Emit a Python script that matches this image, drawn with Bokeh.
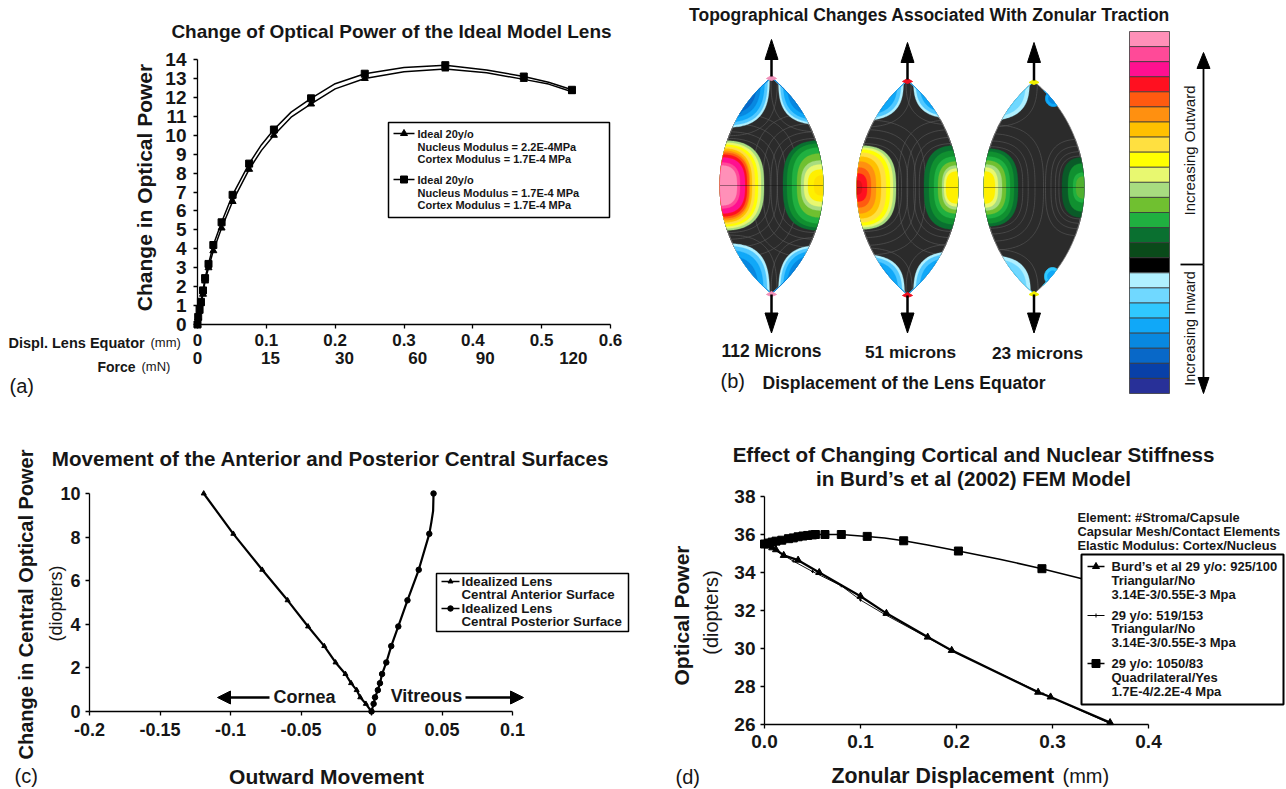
import numpy as np
from bokeh.plotting import figure
from bokeh.layouts import row, column
from bokeh.models import Range1d, FixedTicker, LinearAxis
from bokeh.core.properties import value
from bokeh.embed import file_html
from bokeh.resources import INLINE

FONT = "Liberation Sans"
INK = "#161616"

# ---------- panel (a) data
a_ticks_x = [0, 0.1, 0.2, 0.3, 0.4, 0.5, 0.6]
a_ticks_y = list(range(0, 15))
a_force_labels = ["0", "15", "30", "60", "90", "120"]
a_force_pos = [0, 0.106, 0.2136, 0.32, 0.418, 0.546]
a_x = [0, 0.001, 0.003, 0.005, 0.008, 0.011, 0.016, 0.023, 0.035, 0.051, 0.075, 0.111, 0.165, 0.243, 0.36, 0.474, 0.544]
a_square = [0, 0.4, 0.8, 1.2, 1.8, 2.45, 3.2, 4.2, 5.4, 6.85, 8.5, 10.3, 11.95, 13.25, 13.7, 13.1, 12.4]
a_triangle = [0, 0.35, 0.7, 1.1, 1.6, 2.3, 3.0, 3.9, 5.1, 6.5, 8.2, 10.0, 11.65, 13.0, 13.5, 12.95, 12.3]
# extra points, between the markers
a_curve_x = [0.093, 0.136, 0.2, 0.3, 0.42, 0.51]
a_curve_square = [9.5, 11.22, 12.72, 13.58, 13.45, 12.8]
a_curve_triangle = [9.2, 10.95, 12.45, 13.35, 13.3, 12.7]

# ---------- panel (c) data
c_ticks_x = [-0.2, -0.15, -0.1, -0.05, 0, 0.05, 0.1]
c_ticks_y = [0, 2, 4, 6, 8, 10]
c_ant_x = [-0.119, -0.098, -0.0775, -0.0595, -0.045, -0.0335, -0.0255, -0.0185, -0.0145, -0.0105, -0.008, -0.004, 0]
c_post_x = [0.044, 0.041, 0.0335, 0.0255, 0.019, 0.014, 0.0105, 0.0075, 0.006, 0.0045, 0.0025, 0.0015, 0]
c_power = [10, 8.15, 6.5, 5.1, 3.9, 3.0, 2.25, 1.72, 1.3, 0.98, 0.65, 0.35, 0]
c_post_curve_x = [0.0437, 0.0425]
c_post_curve_y = [9.2, 8.7]

# ---------- panel (d) data
d_ticks_x = [0.0, 0.1, 0.2, 0.3, 0.4]
d_ticks_y = [26, 28, 30, 32, 34, 36, 38]
d_quad_x = [0, 0.004, 0.008, 0.012, 0.018, 0.025, 0.03, 0.035, 0.04, 0.045, 0.05, 0.053, 0.063, 0.08, 0.107, 0.145, 0.202, 0.289, 0.36]
d_quad_y = [35.5, 35.55, 35.6, 35.65, 35.7, 35.78, 35.82, 35.88, 35.92, 35.95, 35.98, 36.0, 36.0, 36.0, 35.9, 35.67, 35.13, 34.2, 33.3]
d_quad_curve_x = [0.125, 0.17, 0.245]
d_quad_curve_y = [35.82, 35.45, 34.7]
d_burd_x = [0, 0.004, 0.008, 0.012, 0.02, 0.035, 0.057, 0.1, 0.127, 0.17, 0.195, 0.285, 0.298, 0.36]
d_burd_y = [35.5, 35.4, 35.3, 35.2, 34.9, 34.65, 34.0, 32.75, 31.85, 30.6, 29.9, 27.7, 27.45, 26.1]
d_thin_x = [0, 0.03, 0.05, 0.08, 0.1, 0.125, 0.195, 0.29, 0.36]
d_thin_y = [35.5, 34.6, 34.05, 33.3, 32.55, 31.8, 29.88, 27.62, 26.05]

# ---------- panel (b) colour scale
scale_colors = ["#FF90B8", "#FF4A98", "#FF1090", "#FF1020", "#FF5A10", "#FF9010", "#FFC000", "#FFE040",
                "#FFFF00", "#E8F870", "#A8DC80", "#70C030", "#20B040", "#0A7030", "#0A4A1A", "#000000",
                "#B0F0FF", "#70D8FF", "#30C8FF", "#10A8F8", "#0888E0", "#0868C8", "#0840A8", "#283098"]
# lens: centre x, centre y, half width, half height
lenses = [(771, 185, 51.5, 108), (907, 187, 50.5, 107), (1033.5, 187, 50, 106)]
tip_colors = ["#F090B8", "#F01020", "#F0F000"]
# warm / cool blobs: (colour, a, b)
blob_1l = [("#A8DC80", 44, 45), ("#E8F870", 41, 43), ("#FFFF00", 38, 41), ("#FFE040", 35, 39), ("#FFC000", 32, 37),
           ("#FF9010", 30, 35), ("#FF5A10", 29, 33), ("#FF1020", 27, 31), ("#FF1090", 25, 28), ("#FF4A98", 20, 23), ("#FF90B8", 17, 20)]
blob_1r = [("#0A7030", 40, 45), ("#109030", 36, 42), ("#20B040", 31, 38), ("#70C030", 26, 32), ("#A8DC80", 22, 25),
           ("#E8F870", 19, 21), ("#FFF000", 15, 16), ("#FFE000", 9, 10)]
blob_2l = [("#A8DC80", 39, 42), ("#E8F870", 36, 40), ("#FFFF00", 33, 38), ("#FFE040", 29, 35), ("#FFC000", 24, 31),
           ("#FF9010", 19, 26), ("#FF5A10", 14, 20), ("#FF1020", 10, 14), ("#E01018", 5, 7)]
blob_2r = [("#0A7030", 34, 42), ("#109030", 29, 37), ("#20B040", 24, 31), ("#70C030", 20, 26), ("#A8DC80", 16, 22),
           ("#E8F870", 14, 19), ("#FFF000", 12, 16)]
blob_3l = [("#0A7030", 34, 39), ("#109030", 30, 36), ("#20B040", 26, 31), ("#70C030", 22, 27), ("#A8DC80", 18, 23),
           ("#E8F870", 14, 20), ("#FFF000", 11, 16)]
blob_3r = [("#0A5A28", 22, 30), ("#109030", 16, 24), ("#20B040", 11, 15), ("#50B030", 8, 11)]
blobs = [(0, -1, blob_1l), (0, 1, blob_1r), (1, -1, blob_2l), (1, 1, blob_2r), (2, -1, blob_3l), (2, 1, blob_3r)]
# blue corners: lens, centre x, centre y, a, b, colour ramp
ramp_deep = [("#B0F0FF", 1.0), ("#50C8FF", 0.96), ("#10A8F8", 0.9), ("#0888E0", 0.82), ("#0868C8", 0.74)]
ramp_mid = [("#B0F0FF", 1.0), ("#50C8FF", 0.95), ("#10A8F8", 0.87), ("#0888E0", 0.76)]
ramp_pale = [("#B0F0FF", 1.0), ("#70D8FF", 0.92), ("#30C8FF", 0.78)]
corners = [(0, 720, 75, 49, 52, ramp_deep), (0, 825, 78, 47, 46, ramp_deep),
           (0, 722, 296, 47, 53, ramp_mid), (0, 824, 296, 46, 51, ramp_deep),
           (1, 855, 78, 48, 42, ramp_mid), (1, 960, 78, 47, 40, ramp_mid),
           (1, 855, 296, 49, 42, ramp_mid), (1, 960, 296, 47, 45, ramp_mid),
           (2, 980, 78, 49, 42, ramp_pale), (2, 982, 296, 48, 41, ramp_pale)]
small_patches = [(2, 1053, 98, 8, 8, ["#10A8F8", "#0888E0"]), (2, 1052, 276, 8, 9, ["#30C8FF", "#10A8F8"])]


def merged(x, y, cx, cy):
    order = np.argsort(list(x) + list(cx), kind="stable")
    return np.array(list(x) + list(cx))[order], np.array(list(y) + list(cy))[order]


class Pn:
    def __init__(self, x0, x1, y0, y1, xr, yr, box):
        self.x0, self.x1, self.y0, self.y1, self.xr, self.yr = x0, x1, y0, y1, xr, yr
        L, T, R, B = box
        self.p = figure(width=R - L, height=B - T, x_range=Range1d(*xr), y_range=Range1d(*yr),
                        min_border_left=x0 - L, min_border_right=R - x1, min_border_top=y1 - T,
                        min_border_bottom=B - y0, output_backend="svg", toolbar_location=None,
                        outline_line_color=None, x_axis_type=None, y_axis_type=None, frame_align=False)

    def fx(self, v):
        return self.xr[0] + (v - self.x0) * (self.xr[1] - self.xr[0]) / (self.x1 - self.x0)

    def fy(self, v):
        return self.yr[0] + (v - self.y0) * (self.yr[1] - self.yr[0]) / (self.y1 - self.y0)

    def text(self, x, y, t, size, bold=True, align="left", angle=0):
        self.p.text(x=[float(self.fx(x))], y=[float(self.fy(y))], text=[t], text_font=value(FONT),
                    text_font_size=value(f"{size}px"), text_font_style="bold" if bold else "normal",
                    text_color=INK, text_align=align, text_baseline="middle", angle=angle,
                    level="overlay")

    def box(self, l, t, r, b, lw):
        self.p.quad(left=[float(self.fx(l))], right=[float(self.fx(r))], top=[float(self.fy(t))],
                    bottom=[float(self.fy(b))], fill_color="white", line_color="black", line_width=lw,
                    level="annotation")

    def key(self, xa, xb, y, marker, size, lw=1.5):
        xs = [float(self.fx(xa)), float(self.fx(xb))]
        ys = [float(self.fy(y))] * 2
        self.p.line(xs, ys, line_color="black", line_width=lw, level="annotation")
        self.p.scatter([sum(xs) / 2], [ys[0]], marker=marker, size=size, fill_color="black",
                       line_color="black", level="annotation")

    def arrow(self, x0, y0, x1, y1, hl, hw, lw=2.5):
        dx, dy = x1 - x0, y1 - y0
        n = np.hypot(dx, dy)
        ux, uy = dx / n, dy / n
        bx, by = x1 - ux * hl, y1 - uy * hl
        px = [x1, bx - uy * hw / 2, bx + uy * hw / 2]
        py = [y1, by + ux * hw / 2, by - ux * hw / 2]
        self.p.line([float(self.fx(x0)), float(self.fx(bx))], [float(self.fy(y0)), float(self.fy(by))],
                    line_color="black", line_width=lw, level="annotation")
        self.p.patch([float(self.fx(v)) for v in px], [float(self.fy(v)) for v in py],
                     fill_color="black", line_color="black", level="annotation")


def axes(pn, xticks, yticks, xlabels, ylabels, xsize, ysize, xstand=6, ystand=6):
    p = pn.p
    ax = LinearAxis(ticker=FixedTicker(ticks=xticks), major_label_overrides=dict(zip(xticks, xlabels)))
    ay = LinearAxis(ticker=FixedTicker(ticks=yticks), major_label_overrides=dict(zip(yticks, ylabels)))
    for a, s, st in ((ax, xsize, xstand), (ay, ysize, ystand)):
        a.axis_line_color = "black"
        a.axis_line_width = 1.3
        a.major_tick_line_color = "black"
        a.major_tick_line_width = 1.3
        a.major_tick_in = 0
        a.major_tick_out = 4
        a.minor_tick_line_color = None
        a.major_label_text_font = FONT
        a.major_label_text_font_style = "bold"
        a.major_label_text_font_size = f"{s}px"
        a.major_label_text_color = INK
        a.major_label_standoff = st
    ay.major_label_orientation = "horizontal"
    p.add_layout(ax, "below")
    p.add_layout(ay, "left")
    return ax, ay


# ================= panel (a)
A = Pn(197, 610, 324, 59, (0, 0.6), (0, 14), (0, 0, 650, 408))
axes(A, a_ticks_x, a_ticks_y, ["0", "0.1", "0.2", "0.3", "0.4", "0.5", "0.6"], [str(v) for v in a_ticks_y], 17, 19, 5, 7)
force_axis = LinearAxis(ticker=FixedTicker(ticks=a_force_pos),
                        major_label_overrides=dict(zip(a_force_pos, a_force_labels)))
force_axis.axis_line_color = None
force_axis.major_tick_line_color = None
force_axis.minor_tick_line_color = None
force_axis.major_tick_in = 0
force_axis.major_tick_out = 0
force_axis.major_label_standoff = 3
force_axis.major_label_text_font = FONT
force_axis.major_label_text_font_style = "bold"
force_axis.major_label_text_font_size = "17px"
force_axis.major_label_text_color = INK
A.p.add_layout(force_axis, "below")
A.p.line(*merged(a_x, a_triangle, a_curve_x, a_curve_triangle), line_color="black", line_width=1.5, level="annotation")
A.p.line(*merged(a_x, a_square, a_curve_x, a_curve_square), line_color="black", line_width=1.5, level="annotation")
A.p.scatter(a_x, a_triangle, marker="triangle", size=7, color="black", level="annotation")
A.p.scatter(a_x, a_square, marker="square", size=7, color="black", level="annotation")
A.box(388, 122, 609, 217, 1.5)
A.key(393, 414, 133, "triangle", 7)
A.key(393, 414, 179, "square", 7)
for y, t in [(133, "Ideal 20y/o"), (146, "Nucleus Modulus = 2.2E-4MPa"), (158, "Cortex Modulus = 1.7E-4 MPa"),
             (179, "Ideal 20y/o"), (192, "Nucleus Modulus = 1.7E-4 MPa"), (204, "Cortex Modulus = 1.7E-4 MPa")]:
    A.text(417, y, t, 11)
A.text(391, 31, "Change of Optical Power of the Ideal Model Lens", 19, align="center")
A.text(144, 187, "Change in Optical Power", 21, align="center", angle=np.pi / 2)
A.text(8, 342, "Displ. Lens Equator", 14.5)
A.text(150, 342, "(mm)", 13, bold=False)
A.text(97, 366, "Force", 14)
A.text(141, 366, "(mN)", 13, bold=False)
A.text(9, 385, "(a)", 20, bold=False)

# ================= panel (c)
C = Pn(89, 512, 711, 493, (-0.2, 0.1), (0, 10), (0, 408, 650, 789))
axes(C, c_ticks_x, c_ticks_y, ["-0.2", "-0.15", "-0.1", "-0.05", "0", "0.05", "0.1"], [str(v) for v in c_ticks_y], 18, 18, 7, 5)
C.p.line(c_ant_x, c_power, line_color="black", line_width=2.2, level="annotation")
C.p.line(*merged(c_post_x[::-1], c_power[::-1], c_post_curve_x, c_post_curve_y), line_color="black", line_width=2.2, level="annotation")
C.p.scatter(c_ant_x, c_power, marker="triangle", size=5, color="black", level="annotation")
C.p.scatter(c_post_x, c_power, marker="circle", size=5.5, color="black", level="annotation")
C.arrow(269, 697, 217, 697, 13, 13, 2.5)
C.arrow(465, 697, 523, 697, 13, 13, 2.5)
C.text(304, 696, "Cornea", 18, align="center")
C.text(426, 695, "Vitreous", 18, align="center")
C.box(436, 573, 628, 631, 1.5)
C.key(441, 459, 581, "triangle", 5)
C.key(441, 459, 608, "circle", 5.5)
for y, t in [(581, "Idealized Lens"), (594, "Central Anterior Surface"), (608, "Idealized Lens"), (621, "Central Posterior Surface")]:
    C.text(461, y, t, 13.3)
C.text(330, 458, "Movement of the Anterior and Posterior Central Surfaces", 20.6, align="center")
C.text(25, 604, "Change in Central Optical Power", 20, align="center", angle=np.pi / 2)
C.text(55, 603, "(diopters)", 18, bold=False, align="center", angle=np.pi / 2)
C.text(326, 776, "Outward Movement", 21, align="center")
C.text(14, 775, "(c)", 20, bold=False)

# ================= panel (d)
D = Pn(764, 1148, 724, 496, (0, 0.4), (26, 38), (650, 408, 1286, 789))
axes(D, d_ticks_x, d_ticks_y, ["0.0", "0.1", "0.2", "0.3", "0.4"], [str(v) for v in d_ticks_y], 19, 19, 6, 5)
D.p.line(*merged(d_quad_x, d_quad_y, d_quad_curve_x, d_quad_curve_y), line_color="black", line_width=1.5, level="annotation")
D.p.line(d_thin_x, d_thin_y, line_color="black", line_width=0.9, level="annotation")
D.p.line(d_burd_x, d_burd_y, line_color="black", line_width=2.3, level="annotation")
D.p.scatter(d_quad_x, d_quad_y, marker="square", size=8, color="black", level="annotation")
D.p.scatter(d_burd_x, d_burd_y, marker="triangle", size=7, color="black", level="annotation")
D.p.scatter(d_thin_x, d_thin_y, marker="cross", size=3, color="black", level="annotation")
D.box(1081, 554, 1283, 704, 2)
D.key(1087, 1104, 566, "triangle", 7)
D.key(1087, 1104, 615, "cross", 4, 1)
D.key(1087, 1104, 663, "square", 8)
for y, t in [(566, "Burd’s et al 29 y/o: 925/100"), (580, "Triangular/No"), (594, "3.14E-3/0.55E-3 Mpa"),
             (615, "29 y/o: 519/153"), (628, "Triangular/No"), (642, "3.14E-3/0.55E-3 Mpa"),
             (663, "29 y/o: 1050/83"), (677, "Quadrilateral/Yes"), (691, "1.7E-4/2.2E-4 Mpa")]:
    D.text(1111, y, t, 13)
for y, t in [(517, "Element: #Stroma/Capsule"), (531, "Capsular Mesh/Contact Elements"), (545, "Elastic Modulus: Cortex/Nucleus")]:
    D.text(1077, y, t, 12.8)
D.text(973, 454, "Effect of Changing Cortical and Nuclear Stiffness", 20.6, align="center")
D.text(973, 478, "in Burd’s et al (2002) FEM Model", 20.6, align="center")
D.text(681, 615, "Optical Power", 21, align="center", angle=np.pi / 2)
D.text(710, 612, "(diopters)", 20, bold=False, align="center", angle=np.pi / 2)
D.text(831, 775, "Zonular Displacement", 21.3)
D.text(1062, 775, "(mm)", 20, bold=False)
D.text(675, 776, "(d)", 20, bold=False)

# ================= panel (b) - page pixels as data
B = Pn(650, 1286, 408, 0, (650, 1286), (408, 0), (650, 0, 1286, 408))
bp = B.p


def half_w(lens, y):
    cx, cy, w, h = lens
    r = (w * w + h * h) / (2 * w)
    d = r - w
    yy = np.clip(np.abs(y - cy), 0, h)
    return np.maximum(np.sqrt(r * r - yy * yy) - d, 0)


def clipped(lens, ex, ey, a, b, n):
    t = np.linspace(0, 2 * np.pi, 220)
    x = ex + a * np.sign(np.cos(t)) * np.abs(np.cos(t)) ** (2 / n)
    y = ey + b * np.sign(np.sin(t)) * np.abs(np.sin(t)) ** (2 / n)
    cx, cy, w, h = lens
    y = np.clip(y, cy - h, cy + h)
    hw = half_w(lens, y)
    x = np.clip(x, cx - hw, cx + hw)
    return x, y


for lens in lenses:
    cx, cy, w, h = lens
    ys = np.linspace(cy - h, cy + h, 160)
    hw = half_w(lens, ys)
    bp.patch(np.r_[cx - hw, (cx + hw)[::-1]], np.r_[ys, ys[::-1]], fill_color="#2B2B2B",
             line_color="#777777", line_width=0.8)

# faint contour lines
for li, side, bands in blobs:
    lens = lenses[li]
    cx, cy, w, h = lens
    ex = cx + side * w
    a0, b0 = bands[0][1], bands[0][2]
    for k in (1.14, 1.3, 1.5, 1.75):
        x, y = clipped(lens, ex, cy, a0 * k, b0 * k * 0.92, 3)
        bp.line(x, y, line_color="#5C5C5C", line_width=0.6)

for li, side, bands in blobs:
    lens = lenses[li]
    cx, cy, w, h = lens
    ex = cx + side * w
    for col, a, b in bands:
        x, y = clipped(lens, ex, cy, a, b, 2.8)
        bp.patch(x, y, fill_color=col, line_color=col, line_width=0.3)

for li, ex, ey, a, b, ramp in corners:
    lens = lenses[li]
    for k in (1.16,):
        x, y = clipped(lens, ex, ey, a * k, b * k, 3)
        bp.line(x, y, line_color="#5C5C5C", line_width=0.6)
    for col, s in ramp:
        x, y = clipped(lens, ex, ey, a * s, b * s, 3)
        bp.patch(x, y, fill_color=col, line_color=col, line_width=0.3)

for li, ex, ey, a, b, cols in small_patches:
    lens = lenses[li]
    for col, s in zip(cols, (1.0, 0.6)):
        x, y = clipped(lens, ex, ey, a * s, b * s, 2)
        bp.patch(x, y, fill_color=col, line_color=col)

for lens, tip in zip(lenses, tip_colors):
    cx, cy, w, h = lens
    bp.line([cx - w, cx + w], [cy, cy], line_color="#111111", line_width=0.6, line_alpha=0.7)
    for ty in (cy - h, cy + h):
        bp.patch([cx - 5, cx, cx + 5, cx], [ty + 1, ty - 2, ty + 1, ty + 3], fill_color=tip, line_color=tip)
    B.arrow(cx, cy - h - 1, cx, 39 + (cy - 185) * 1.5, 20, 13, 2.5)
    B.arrow(cx, cy + h + 1, cx, 332.5, 20, 13, 2.5)

# colour scale
n_cells = len(scale_colors)
edges = np.linspace(31, 393, n_cells + 1)
bp.quad(left=[1129] * n_cells, right=[1169] * n_cells, top=edges[:-1], bottom=edges[1:], fill_color=scale_colors,
        line_color="#3A3A3A", line_width=0.8)
B.arrow(1203, 264, 1203, 52, 16, 13, 1.8)
B.arrow(1203, 264, 1203, 393, 16, 11, 1.8)
bp.line([1180, 1203], [264, 264], line_color="black", line_width=1.8)
B.text(1189, 150, "Increasing Outward", 15, bold=False, align="center", angle=np.pi / 2)
B.text(1189, 328, "Increasing Inward", 14.5, bold=False, align="center", angle=np.pi / 2)
B.text(929, 14, "Topographical Changes Associated With Zonular Traction", 17.5, align="center")
B.text(771, 350, "112 Microns", 17.5, align="center")
B.text(910, 351, "51 microns", 17.3, align="center")
B.text(1037, 352, "23 microns", 17.3, align="center")
B.text(720, 380, "(b)", 20, bold=False)
B.text(762, 382, "Displacement of the Lens Equator", 17.5)

layout = row(column(A.p, C.p), column(B.p, D.p))
open("out.html", "w").write(file_html(layout, INLINE))
